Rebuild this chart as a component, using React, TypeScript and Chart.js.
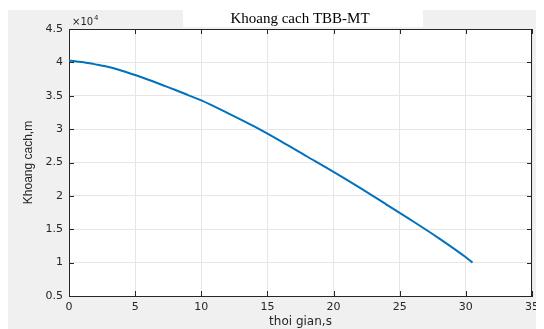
import { useEffect, useRef } from "react";
import { Chart, registerables } from "chart.js";

Chart.register(...registerables);

// ---- data ----
const timeS = [0, 1, 2, 3, 4, 5, 6, 7, 8, 9, 10, 12, 14, 16, 18, 20, 22, 24, 26, 28, 30, 30.5];
const distanceM = [
  40300, 40050, 39700, 39300, 38750, 38100, 37400, 36650, 35900, 35100, 34300,
  32400, 30400, 28200, 25900, 23600, 21200, 18700, 16200, 13600, 10800, 10000,
];
const xTickValues = [0, 5, 10, 15, 20, 25, 30, 35];
const yTickValues = [5000, 10000, 15000, 20000, 25000, 30000, 35000, 40000, 45000];
const yTickLabels = ["0.5", "1", "1.5", "2", "2.5", "3", "3.5", "4", "4.5"];
const titleText = "Khoang cach TBB-MT";
const xTitle = "thoi gian,s";
const yTitle = "Khoang cach,m";
const exponentBase = "×10";
const exponentPower = "4";

const LINE = "#0072BD";
const AXIS = "#262626";
const FIG_BG = "#f0f0f0";

const matlabPlugin = {
  id: "matlabLook",
  beforeDraw(chart: any) {
    const { ctx, width, height, chartArea } = chart;
    ctx.save();
    ctx.fillStyle = "#ffffff";
    ctx.fillRect(0, 0, width, height);
    ctx.fillStyle = FIG_BG;
    ctx.fillRect(0, 2, width, height - 2);
    ctx.fillStyle = "#ffffff";
    ctx.fillRect(chartArea.left, chartArea.top, chartArea.right - chartArea.left, chartArea.bottom - chartArea.top);
    // title box
    ctx.fillRect(175, 2, 240, 17);
    ctx.fillStyle = "#000000";
    ctx.font = "15px 'Liberation Serif', serif";
    ctx.textAlign = "center";
    ctx.textBaseline = "middle";
    ctx.fillText(titleText, 292, 11);
    ctx.restore();
  },
  afterDraw(chart: any) {
    const { ctx, chartArea, scales } = chart;
    const { left, right, top, bottom } = chartArea;
    ctx.save();
    ctx.strokeStyle = AXIS;
    ctx.lineWidth = 1;
    ctx.beginPath();
    ctx.moveTo(left, top + 0.5);
    ctx.lineTo(right, top + 0.5);
    ctx.moveTo(right - 0.5, top);
    ctx.lineTo(right - 0.5, bottom);
    const tl = 5;
    scales.x.ticks.forEach((t: any) => {
      const px = Math.round(scales.x.getPixelForValue(t.value)) + 0.5;
      ctx.moveTo(px, bottom);
      ctx.lineTo(px, bottom - tl);
      ctx.moveTo(px, top);
      ctx.lineTo(px, top + tl);
    });
    scales.y.ticks.forEach((t: any) => {
      const py = Math.round(scales.y.getPixelForValue(t.value)) + 0.5;
      ctx.moveTo(left, py);
      ctx.lineTo(left + tl, py);
      ctx.moveTo(right, py);
      ctx.lineTo(right - tl, py);
    });
    ctx.stroke();
    // exponent label
    ctx.fillStyle = AXIS;
    ctx.textAlign = "left";
    ctx.textBaseline = "alphabetic";
    ctx.font = "10px 'DejaVu Sans', sans-serif";
    ctx.fillText(exponentBase, left + 3, top - 4);
    const w = ctx.measureText(exponentBase).width;
    ctx.font = "7px 'DejaVu Sans', sans-serif";
    ctx.fillText(exponentPower, left + 3 + w + 1, top - 9);
    ctx.restore();
  },
};

export default function App() {
  const ref = useRef<HTMLCanvasElement | null>(null);
  useEffect(() => {
    if (!ref.current) return;
    const chart = new Chart(ref.current, {
      type: "line",
      data: {
        datasets: [
          {
            data: timeS.map((t, i) => ({ x: t, y: distanceM[i] })),
            borderColor: LINE,
            borderWidth: 2,
            pointRadius: 0,
            cubicInterpolationMode: "monotone",
            fill: false,
          },
        ],
      },
      options: {
        responsive: false,
        animation: false,
        layout: { padding: { left: 0, right: 4, top: 21, bottom: 0 } },
        plugins: { legend: { display: false }, tooltip: { enabled: false } },
        scales: {
          x: {
            type: "linear",
            min: 0,
            max: 35,
            afterBuildTicks: (s: any) => {
              s.ticks = xTickValues.map((v) => ({ value: v }));
            },
            afterFit: (s: any) => {
              s.height = 33;
            },
            ticks: {
              color: AXIS,
              font: { family: "'DejaVu Sans', sans-serif", size: 11 },
              padding: 5,
              maxRotation: 0,
            },
            grid: { color: "#e6e6e6", lineWidth: 1, drawTicks: false },
            border: { display: true, color: AXIS, width: 1 },
            title: {
              display: true,
              text: xTitle,
              color: AXIS,
              font: { family: "'DejaVu Sans', sans-serif", size: 12 },
              padding: { top: 0, bottom: 0 },
            },
          },
          y: {
            type: "linear",
            min: 5000,
            max: 45000,
            afterBuildTicks: (s: any) => {
              s.ticks = yTickValues.map((v) => ({ value: v }));
            },
            afterFit: (s: any) => {
              s.width = 61;
            },
            ticks: {
              color: AXIS,
              font: { family: "'DejaVu Sans', sans-serif", size: 11 },
              padding: 6,
              callback: (v: any) => {
                const i = yTickValues.indexOf(Number(v));
                return i >= 0 ? yTickLabels[i] : "";
              },
            },
            grid: { color: "#e6e6e6", lineWidth: 1, drawTicks: false },
            border: { display: true, color: AXIS, width: 1 },
            title: {
              display: true,
              text: yTitle,
              color: AXIS,
              font: { family: "'Liberation Sans', sans-serif", size: 12 },
              padding: { top: 13, bottom: 0 },
            },
          },
        },
      },
      plugins: [matlabPlugin],
    });
    return () => chart.destroy();
  }, []);
  return (
    <div style={{ width: 536, height: 321 }}>
      <canvas ref={ref} width={536} height={321} style={{ display: "block" }} />
    </div>
  );
}
